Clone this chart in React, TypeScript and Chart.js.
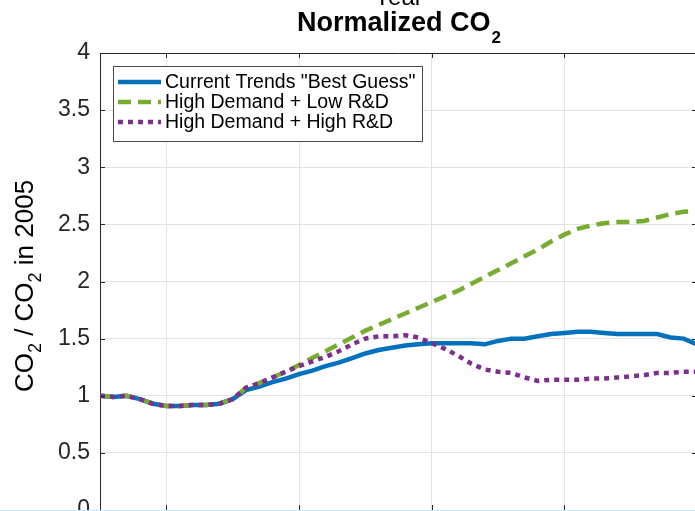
import React, { useEffect, useRef } from "react";
import { Chart, registerables } from "chart.js";

Chart.register(...registerables);

const YEARS = [
  2005, 2006, 2007, 2008, 2009, 2010, 2011, 2012, 2013, 2014,
  2015, 2016, 2017, 2018, 2019, 2020, 2021, 2022, 2023, 2024,
  2025, 2026, 2027, 2028, 2029, 2030, 2031, 2032, 2033, 2034,
  2035, 2036, 2037, 2038, 2039, 2040, 2041, 2042, 2043, 2044,
  2045, 2046, 2047, 2048, 2049, 2050,
];

const CURRENT_TRENDS = [
  1.0, 0.99, 1.0, 0.97, 0.93, 0.91, 0.91, 0.92, 0.92, 0.93,
  0.97, 1.05, 1.08, 1.12, 1.15, 1.19, 1.22, 1.26, 1.29, 1.33,
  1.37, 1.4, 1.42, 1.44, 1.45, 1.46, 1.46, 1.46, 1.46, 1.45,
  1.48, 1.5, 1.5, 1.52, 1.54, 1.55, 1.56, 1.56, 1.55, 1.54,
  1.54, 1.54, 1.54, 1.51, 1.5, 1.45,
];

const HIGH_DEMAND_LOW_RD = [
  1.0, 0.99, 1.0, 0.97, 0.93, 0.91, 0.91, 0.92, 0.92, 0.93,
  0.97, 1.07, 1.11, 1.16, 1.21, 1.27, 1.33, 1.39, 1.45, 1.51,
  1.57, 1.62, 1.67, 1.72, 1.77, 1.82, 1.87, 1.92, 1.98, 2.04,
  2.1, 2.16, 2.22, 2.28, 2.35, 2.41, 2.46, 2.49, 2.51, 2.52,
  2.52, 2.53, 2.56, 2.59, 2.61, 2.62,
];

const HIGH_DEMAND_HIGH_RD = [
  1.0, 0.99, 1.0, 0.97, 0.93, 0.91, 0.91, 0.92, 0.92, 0.93,
  0.97, 1.07, 1.11, 1.16, 1.21, 1.26, 1.3, 1.34, 1.39, 1.45,
  1.5, 1.52, 1.52, 1.53, 1.51, 1.46, 1.41, 1.35, 1.28, 1.23,
  1.21, 1.2, 1.16, 1.13, 1.14, 1.14, 1.14, 1.15, 1.15, 1.16,
  1.17, 1.18, 1.2, 1.2, 1.21, 1.21,
];

const SERIES_LABELS = [
  'Current Trends "Best Guess"',
  "High Demand + Low R&D",
  "High Demand + High R&D",
];

const X_TICKS = [2010, 2020, 2030, 2040, 2050];
const Y_TICKS = [0, 0.5, 1, 1.5, 2, 2.5, 3, 3.5, 4];

const FONT = '"Liberation Sans", Arial, Helvetica, sans-serif';
const AXIS_COLOR = "#262626";
const GRID_COLOR = "#e3e3e3";

const decorations = {
  id: "decorations",
  afterDraw(chart: any) {
    const ctx = chart.ctx as CanvasRenderingContext2D;
    const area = chart.chartArea;
    const xs = chart.scales.x;
    const ys = chart.scales.y;
    ctx.save();

    // top and right box lines
    ctx.strokeStyle = AXIS_COLOR;
    ctx.lineWidth = 1;
    ctx.beginPath();
    ctx.moveTo(area.left, area.top + 0.5);
    ctx.lineTo(area.right, area.top + 0.5);
    ctx.moveTo(area.right - 0.5, area.top);
    ctx.lineTo(area.right - 0.5, area.bottom);
    ctx.stroke();

    // inward tick marks
    const tl = 5;
    ctx.beginPath();
    Y_TICKS.forEach((v) => {
      const py = Math.round(ys.getPixelForValue(v)) + 0.5;
      ctx.moveTo(area.left, py);
      ctx.lineTo(area.left + tl, py);
      ctx.moveTo(area.right, py);
      ctx.lineTo(area.right - tl, py);
    });
    X_TICKS.forEach((v) => {
      const px = Math.round(xs.getPixelForValue(v)) + 0.5;
      ctx.moveTo(px, area.top);
      ctx.lineTo(px, area.top + tl);
      ctx.moveTo(px, area.bottom);
      ctx.lineTo(px, area.bottom - tl);
    });
    ctx.stroke();

    // legend
    const lx = 113, ly = 66, lw = 309, lh = 75;
    ctx.fillStyle = "#ffffff";
    ctx.fillRect(lx, ly, lw, lh);
    ctx.strokeStyle = "#4a4a4a";
    ctx.lineWidth = 1;
    ctx.strokeRect(lx + 0.5, ly + 0.5, lw, lh);
    const rows = [82, 102, 122];
    chart.data.datasets.forEach((ds: any, i: number) => {
      const y = rows[i];
      ctx.save();
      ctx.strokeStyle = ds.borderColor;
      ctx.lineWidth = ds.borderWidth;
      ctx.setLineDash(ds.borderDash || []);
      ctx.lineCap = "butt";
      ctx.beginPath();
      ctx.moveTo(118, y);
      ctx.lineTo(161, y);
      ctx.stroke();
      ctx.restore();
      ctx.fillStyle = "#000000";
      ctx.font = `19.5px ${FONT}`;
      ctx.textBaseline = "middle";
      ctx.textAlign = "left";
      ctx.fillText(ds.label, 165, y + 1);
    });

    // title
    const cx = (area.left + area.right) / 2;
    ctx.fillStyle = "#000000";
    ctx.textAlign = "left";
    ctx.textBaseline = "alphabetic";
    ctx.font = `bold 27px ${FONT}`;
    const main = "Normalized CO";
    const w1 = ctx.measureText(main).width;
    ctx.font = `bold 17px ${FONT}`;
    const w2 = ctx.measureText("2").width;
    const sx = cx - (w1 + w2) / 2;
    ctx.font = `bold 27px ${FONT}`;
    ctx.fillText(main, sx, 31);
    ctx.font = `bold 17px ${FONT}`;
    ctx.fillText("2", sx + w1 + 1, 43);

    // partial "Year" label from the plot above
    ctx.font = `24px ${FONT}`;
    ctx.textAlign = "center";
    ctx.fillText("Year", cx, 5);

    // y axis title with subscripts
    const parts: [string, boolean][] = [
      ["CO", false],
      ["2", true],
      [" / CO", false],
      ["2", true],
      [" in 2005", false],
    ];
    const bigF = `26px ${FONT}`;
    const subF = `18px ${FONT}`;
    let total = 0;
    const widths = parts.map(([t, s]) => {
      ctx.font = s ? subF : bigF;
      const w = ctx.measureText(t).width;
      total += w;
      return w;
    });
    ctx.translate(33, 286);
    ctx.rotate(-Math.PI / 2);
    ctx.textAlign = "left";
    let px = -total / 2;
    parts.forEach(([t, s], i) => {
      ctx.font = s ? subF : bigF;
      ctx.fillText(t, px, s ? 8 : 0);
      px += widths[i];
    });
    ctx.restore();
  },
};

export default function App() {
  const ref = useRef<HTMLCanvasElement | null>(null);

  useEffect(() => {
    const canvas = ref.current;
    if (!canvas) return;
    const mk = (vals: number[]) => YEARS.map((x, i) => ({ x, y: vals[i] }));
    const chart = new Chart(canvas, {
      type: "line",
      data: {
        datasets: [
          {
            label: SERIES_LABELS[0],
            data: mk(CURRENT_TRENDS),
            borderColor: "#0072BD",
            borderWidth: 4.5,
            pointRadius: 0,
            tension: 0,
            order: 3,
          },
          {
            label: SERIES_LABELS[1],
            data: mk(HIGH_DEMAND_LOW_RD),
            borderColor: "#77AC30",
            borderWidth: 4.5,
            borderDash: [13, 7],
            pointRadius: 0,
            tension: 0,
            order: 2,
          },
          {
            label: SERIES_LABELS[2],
            data: mk(HIGH_DEMAND_HIGH_RD),
            borderColor: "#7E2F8E",
            borderWidth: 4.5,
            borderDash: [5, 5],
            pointRadius: 0,
            tension: 0,
            order: 1,
          },
        ],
      },
      options: {
        animation: false,
        responsive: false,
        devicePixelRatio: 1,
        layout: { padding: { top: 53, right: 23, left: 0, bottom: 0 } },
        plugins: {
          legend: { display: false },
          title: { display: false },
          tooltip: { enabled: false },
        },
        scales: {
          x: {
            type: "linear",
            min: 2005,
            max: 2050,
            afterBuildTicks: (s: any) => {
              s.ticks = X_TICKS.map((v) => ({ value: v }));
            },
            afterFit: (s: any) => {
              s.height = 40;
            },
            grid: { color: GRID_COLOR, drawTicks: false, lineWidth: 1 },
            border: { display: true, color: "#5d8db5", width: 1 },
            ticks: { display: false },
          },
          y: {
            type: "linear",
            min: 0,
            max: 4,
            afterBuildTicks: (s: any) => {
              s.ticks = Y_TICKS.map((v) => ({ value: v }));
            },
            afterFit: (s: any) => {
              s.width = 100;
            },
            grid: { color: GRID_COLOR, drawTicks: false, lineWidth: 1 },
            border: { display: true, color: AXIS_COLOR, width: 1 },
            ticks: {
              color: "#262626",
              font: { family: FONT, size: 23 },
              padding: 10,
              callback: (v: any) => String(v),
            },
          },
        },
      },
      plugins: [decorations],
    });
    return () => chart.destroy();
  }, []);

  return (
    <div
      style={{
        position: "fixed",
        left: 0,
        top: 0,
        width: 695,
        height: 511,
        overflow: "hidden",
        background: "#ffffff",
      }}
    >
      <canvas ref={ref} width={720} height={550} style={{ display: "block" }} />
      <div
        style={{
          position: "absolute",
          left: 0,
          top: 510,
          width: 695,
          height: 1,
          background: "#c4e6f6",
        }}
      />
    </div>
  );
}
